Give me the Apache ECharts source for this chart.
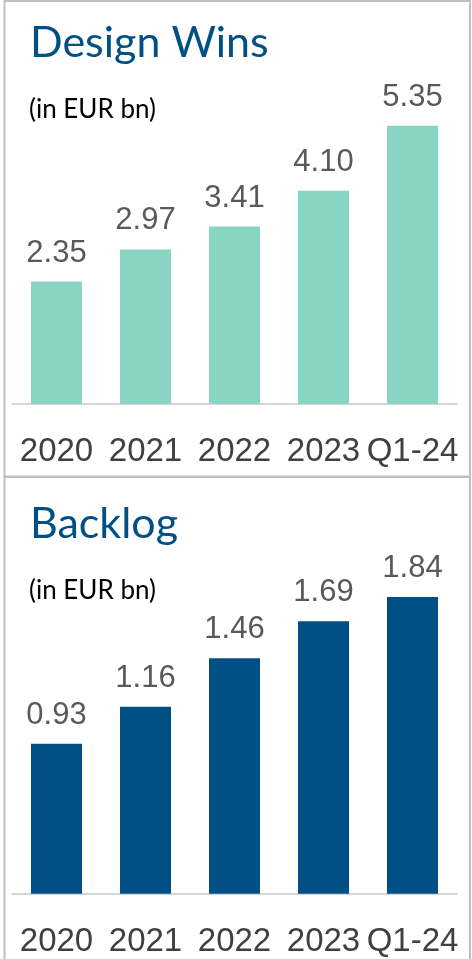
<!DOCTYPE html>
<html>
<head>
<meta charset="utf-8">
<script src="https://cdn.jsdelivr.net/npm/echarts@6/dist/echarts.min.js"></script>
<style>
html,body{margin:0;padding:0;background:#fff;}
#main{width:472px;height:959px;}
</style>
</head>
<body>
<div id="main"></div>
<script>
const categories = ['2020', '2021', '2022', '2023', 'Q1-24'];
const designWins = [2.35, 2.97, 3.41, 4.10, 5.35];
const backlog = [0.93, 1.16, 1.46, 1.69, 1.84];
const titles = ['Design Wins', 'Backlog'];
const unitText = '(in EUR bn)';

const chart = echarts.init(document.getElementById('main'));
const axisLabelStyle = {fontFamily: 'Liberation Sans', fontSize: 33, color: '#404040', margin: 32, interval: 0};
const valLabel = {show: true, position: 'top', distance: 13, fontFamily: 'Liberation Sans', fontSize: 31, color: '#595959', formatter: p => p.value.toFixed(2)};

chart.setOption({
  animation: false,
  grid: [
    {left: 12, width: 445, top: 40, height: 363.7},
    {left: 12, width: 445, top: 490.7, height: 403}
  ],
  xAxis: [0, 1].map(i => ({
    type: 'category', gridIndex: i, data: categories,
    axisLine: {lineStyle: {color: '#C8C8C8', width: 1.5}},
    axisTick: {show: false},
    axisLabel: axisLabelStyle
  })),
  yAxis: [
    {type: 'value', gridIndex: 0, min: 0, max: 7, show: false},
    {type: 'value', gridIndex: 1, min: 0, max: 2.5, show: false}
  ],
  series: [
    {type: 'bar', xAxisIndex: 0, yAxisIndex: 0, data: designWins, barWidth: 51, itemStyle: {color: '#89D5C4'}, label: valLabel},
    {type: 'bar', xAxisIndex: 1, yAxisIndex: 1, data: backlog, barWidth: 51, itemStyle: {color: '#005086'}, label: valLabel}
  ],
  graphic: [
    {type: 'rect', shape: {x: 4.5, y: 1, width: 465.5, height: 475.5}, style: {fill: 'none', stroke: '#BFBFBF', lineWidth: 2}, z: -1},
    {type: 'rect', shape: {x: 4.5, y: 477, width: 465.5, height: 500}, style: {fill: 'none', stroke: '#BFBFBF', lineWidth: 2}, z: -1},
    {type: 'text', left: 30, top: 22, style: {text: titles[0], font: '43px Lato', fill: '#005086'}},
    {type: 'text', left: 30, top: 503, style: {text: titles[1], font: '43px Lato', fill: '#005086'}},
    {type: 'text', left: 29, top: 97, style: {text: unitText, font: '26px Lato', fill: '#000'}},
    {type: 'text', left: 29, top: 578, style: {text: unitText, font: '26px Lato', fill: '#000'}}
  ]
});
</script>
</body>
</html>
